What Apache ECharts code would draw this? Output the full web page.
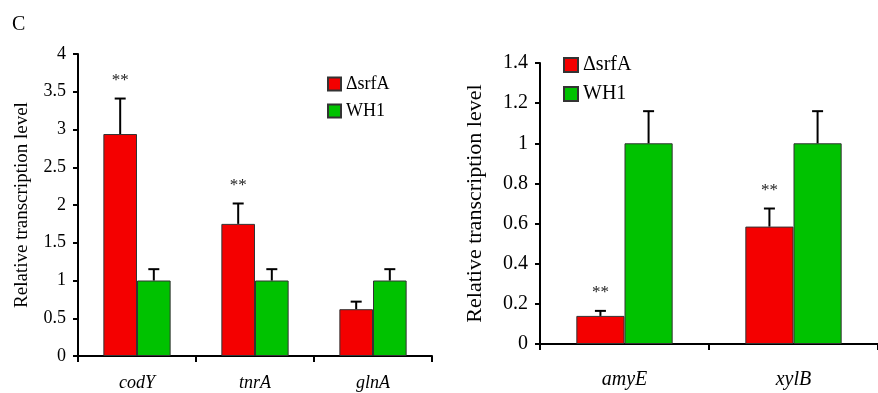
<!DOCTYPE html>
<html><head><meta charset="utf-8">
<script src="https://cdn.jsdelivr.net/npm/echarts@6/dist/echarts.min.js"></script>
<style>html,body{margin:0;padding:0;background:#fff}#c{width:878px;height:393px}</style>
</head><body><div id="c"></div>
<script>
// ---- data ----
var seriesNames = ['\u0394srfA', 'WH1'];
var catsL = ['codY', 'tnrA', 'glnA'];
var srfL = [2.94, 1.75, 0.62];
var srfErrL = [0.47, 0.27, 0.10];
var whL = [1, 1, 1];
var whErrL = [0.15, 0.15, 0.15];
var sigL = ['**', '**', ''];
var catsR = ['amyE', 'xylB'];
var srfR = [0.14, 0.585];
var srfErrR = [0.025, 0.09];
var whR = [1, 1];
var whErrR = [0.16, 0.16];
var sigR = ['**', '**'];
var yTicksL = {min: 0, max: 4, interval: 0.5};
var yTicksR = {min: 0, max: 1.4, interval: 0.2};

var RED = '#f40000', GREEN = '#00c200';
var FONT = '"Liberation Serif", "Times New Roman", "DejaVu Serif", serif';
var GAP = 0.43;

function errSeries(xi, yi, vals, errs, sigs, sign) {
  var data = vals.map(function (v, i) { return [i, v, errs[i], sigs ? sigs[i] : '']; });
  return {
    type: 'custom', xAxisIndex: xi, yAxisIndex: yi, z: 5, silent: true,
    data: data,
    renderItem: function (params, api) {
      var i = api.value(0), v = api.value(1), e = api.value(2);
      var band = api.size([1, 0])[0];
      var bw = band * (1 - GAP) / 2;
      var base = api.coord([i, v]);
      var top = api.coord([i, v + e]);
      var x = base[0] + sign * bw / 2;
      var children = [
        {type: 'line', shape: {x1: x, y1: base[1], x2: x, y2: top[1]}, style: {stroke: '#000', lineWidth: 2}},
        {type: 'line', shape: {x1: x - 5.5, y1: top[1], x2: x + 5.5, y2: top[1]}, style: {stroke: '#000', lineWidth: 2}}
      ];
      var s = data[params.dataIndex][3];
      if (s) {
        children.push({type: 'text', style: {text: s, x: x, y: top[1] - 18, align: 'center', verticalAlign: 'middle', fontFamily: FONT, fontSize: 17, fill: '#222'}});
      }
      return {type: 'group', children: children};
    }
  };
}

function bar(name, xi, yi, vals, color) {
  return {
    name: name, type: 'bar', xAxisIndex: xi, yAxisIndex: yi, data: vals,
    barGap: '0%', barCategoryGap: (GAP * 100) + '%',
    itemStyle: {color: color, borderColor: '#333', borderWidth: 1}
  };
}

var axisLine = {show: true, lineStyle: {color: '#000', width: 2}};
var chart = echarts.init(document.getElementById('c'));
chart.setOption({
  backgroundColor: '#fff',
  animation: false,
  textStyle: {fontFamily: FONT},
  title: {text: 'C', left: 7, top: 10, textStyle: {fontFamily: FONT, fontWeight: 'normal', fontSize: 20, color: '#000'}},
  grid: [
    {left: 78, top: 54, right: 446, bottom: 37},
    {left: 540, top: 63, right: 0, bottom: 49}
  ],
  legend: [
    {data: seriesNames, orient: 'vertical', left: 322, top: 70, itemWidth: 13, itemHeight: 13, itemGap: 9,
     icon: 'rect', textStyle: {fontFamily: FONT, fontSize: 18, color: '#000'}},
    {data: seriesNames, orient: 'vertical', left: 558, top: 50, itemWidth: 14, itemHeight: 14, itemGap: 9,
     icon: 'rect', textStyle: {fontFamily: FONT, fontSize: 20, color: '#000'}}
  ],
  xAxis: [
    {type: 'category', gridIndex: 0, data: catsL, axisLine: axisLine,
     axisTick: {show: true, length: 6, lineStyle: {color: '#000', width: 2}},
     axisLabel: {fontFamily: FONT, fontStyle: 'italic', fontSize: 18, color: '#000', margin: 18}},
    {type: 'category', gridIndex: 1, data: catsR, axisLine: axisLine,
     axisTick: {show: true, length: 6, lineStyle: {color: '#000', width: 2}},
     axisLabel: {fontFamily: FONT, fontStyle: 'italic', fontSize: 20, color: '#000', margin: 26}}
  ],
  yAxis: [
    {type: 'value', gridIndex: 0, min: yTicksL.min, max: yTicksL.max, interval: yTicksL.interval,
     name: 'Relative transcription level', nameLocation: 'middle', nameGap: 46,
     nameTextStyle: {fontFamily: FONT, fontSize: 19, color: '#000'},
     axisLine: axisLine, splitLine: {show: false},
     axisTick: {show: true, length: 5, lineStyle: {color: '#000', width: 2}},
     axisLabel: {fontFamily: FONT, fontSize: 18, color: '#000', margin: 12}},
    {type: 'value', gridIndex: 1, min: yTicksR.min, max: yTicksR.max, interval: yTicksR.interval,
     name: 'Relative transcription level', nameLocation: 'middle', nameGap: 54,
     nameTextStyle: {fontFamily: FONT, fontSize: 22, color: '#000'},
     axisLine: axisLine, splitLine: {show: false},
     axisTick: {show: true, length: 5, lineStyle: {color: '#000', width: 2}},
     axisLabel: {fontFamily: FONT, fontSize: 20, color: '#000', margin: 12}}
  ],
  series: [
    bar(seriesNames[0], 0, 0, srfL, RED),
    bar(seriesNames[1], 0, 0, whL, GREEN),
    bar(seriesNames[0], 1, 1, srfR, RED),
    bar(seriesNames[1], 1, 1, whR, GREEN),
    errSeries(0, 0, srfL, srfErrL, sigL, -1),
    errSeries(0, 0, whL, whErrL, null, 1),
    errSeries(1, 1, srfR, srfErrR, sigR, -1),
    errSeries(1, 1, whR, whErrR, null, 1)
  ]
});
</script></body></html>
